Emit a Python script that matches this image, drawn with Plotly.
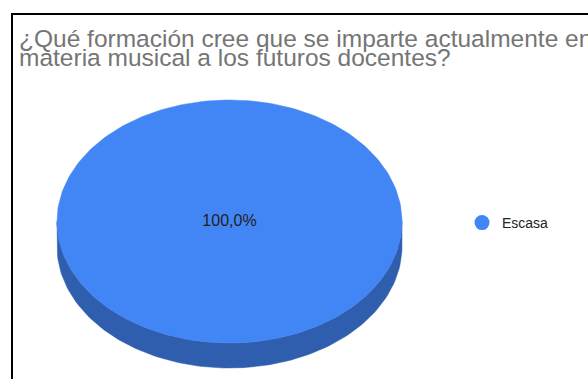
import numpy as np
import plotly.graph_objects as go

# ---- data ----
categories = ["Escasa"]
values = [100]
label_texts = ["100,0%"]
title_lines = ["¿Qué formación cree que se imparte actualmente en",
               "materia musical a los futuros docentes?"]
top_colors = ["#4285f4"]
side_colors = ["#2f5eae"]

# ---- layout constants ----
W, H = 588, 379
CX, CY, RX, RY, DEPTH = 229.5, 221.5, 172.5, 121.5, 25
FONT = "Arial, Liberation Sans, sans-serif"

fig = go.Figure()
total = float(sum(values))


def arc(a0, a1, n=240, dy=0.0):
    t = np.linspace(a0, a1, max(2, int(n * (a1 - a0) / (2 * np.pi)) + 2))
    return CX + RX * np.sin(t), CY - RY * np.cos(t) + dy


# side walls (front half only)
start = 0.0
for cat, v, scol in zip(categories, values, side_colors):
    a0 = start / total * 2 * np.pi
    a1 = (start + v) / total * 2 * np.pi
    lo, hi = max(a0, np.pi / 2), min(a1, 3 * np.pi / 2)
    if hi > lo:
        xt, yt = arc(lo, hi)
        xb, yb = arc(lo, hi, dy=DEPTH)
        xs = np.concatenate([xt, xb[::-1], xt[:1]])
        ys = np.concatenate([yt, yb[::-1], yt[:1]])
        fig.add_trace(go.Scatter(x=xs, y=ys, mode="lines", fill="toself",
                                 fillcolor=scol, line=dict(width=0.5, color=scol),
                                 hoverinfo="skip", showlegend=False))
    start += v

# top faces
start = 0.0
for cat, v, col, lab in zip(categories, values, top_colors, label_texts):
    a0 = start / total * 2 * np.pi
    a1 = (start + v) / total * 2 * np.pi
    xa, ya = arc(a0, a1)
    if v < total:
        xs = np.concatenate([[CX], xa, [CX]])
        ys = np.concatenate([[CY], ya, [CY]])
    else:
        xs, ys = xa, ya
    fig.add_trace(go.Scatter(x=xs, y=ys, mode="lines", fill="toself",
                             fillcolor=col, line=dict(width=0.5, color=col),
                             hoverinfo="skip", showlegend=False))
    if v < total:
        am = (a0 + a1) / 2
        lx, ly = CX + 0.6 * RX * np.sin(am), CY - 0.6 * RY * np.cos(am)
    else:
        lx, ly = CX, CY
    fig.add_trace(go.Scatter(x=[lx], y=[ly], mode="text", text=[lab],
                             textfont=dict(family=FONT, size=16, color="#222222"),
                             hoverinfo="skip", showlegend=False))
    start += v

# legend entries
for cat, col in zip(categories, top_colors):
    fig.add_trace(go.Scatter(x=[None], y=[None], mode="markers", name=cat,
                             marker=dict(size=15, color=col, symbol="circle")))

# title lines
for i, line in enumerate(title_lines):
    fig.add_annotation(x=17, y=38 + 19 * i, xref="x", yref="y", text=line,
                       showarrow=False, xanchor="left", yanchor="middle",
                       font=dict(family=FONT, size=24.5, color="#757575"))

# border
fig.add_shape(type="rect", x0=12, y0=14, x1=W + 20, y1=H + 20,
              xref="x", yref="y", line=dict(color="#000000", width=2))

fig.update_layout(
    width=W, height=H,
    margin=dict(l=0, r=0, t=0, b=0),
    paper_bgcolor="white", plot_bgcolor="white",
    xaxis=dict(range=[0, W], visible=False, fixedrange=True, domain=[0, 1]),
    yaxis=dict(range=[H, 0], visible=False, fixedrange=True, domain=[0, 1]),
    showlegend=True,
    legend=dict(x=462 / W, y=1 - 223 / H, xanchor="left", yanchor="middle",
                font=dict(family=FONT, size=14, color="#222222"),
                bgcolor="rgba(0,0,0,0)"),
)

fig.write_html("out.html")
